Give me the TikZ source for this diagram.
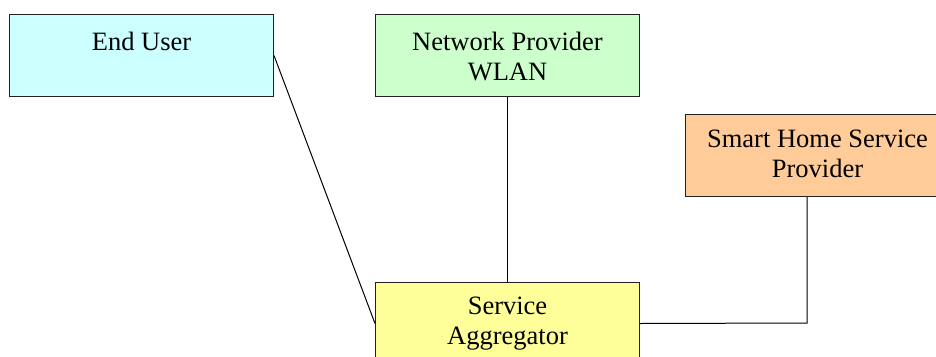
\documentclass[tikz,border=0pt]{standalone}
\usepackage{fontspec}
\setmainfont{Liberation Serif}
\definecolor{userfill}{HTML}{CCFFFF}
\definecolor{netfill}{HTML}{CCFFCC}
\definecolor{homefill}{HTML}{FFCC99}
\definecolor{aggfill}{HTML}{FFFF99}
\definecolor{edge}{HTML}{222222}
\begin{document}
\begin{tikzpicture}[x=1pt, y=-1pt,
  rolebox/.style={draw=edge, line width=1pt, rectangle, inner sep=0pt,
    minimum width=264pt, minimum height=82pt, anchor=north west},
  roletext/.style={anchor=north, inner sep=0pt, align=center,
    font=\fontsize{26.5}{30}\selectfont},
  link/.style={draw=black, line width=1pt}]
  \useasboundingbox (0,0) rectangle (936,356);

  % role boxes
  \node[rolebox, fill=userfill] (user) at (9,14) {};
  \node[rolebox, fill=netfill]  (net)  at (375,14) {};
  \node[rolebox, fill=homefill] (home) at (685,114) {};
  \node[rolebox, fill=aggfill]  (agg)  at (375,282) {};

  % labels, set from the top of each box
  \node[roletext] (userlbl) at ([yshift=-18pt]user.north) {End User};
  \node[roletext] (netlbl)  at ([yshift=-18pt]net.north)  {Network Provider\\WLAN};
  \node[roletext] (homelbl) at ([yshift=-16pt]home.north) {Smart Home Service\\Provider};
  \node[roletext] (agglbl)  at ([yshift=-15pt]agg.north)  {Service\\Aggregator};

  % connectors
  \coordinate (bend) at (807,323);
  \draw[link] (user.east) -- (agg.west);
  \draw[link] (net.south) -- (agg.north);
  \draw[link] (home.south -| bend) -- (bend) -- (agg.east);
\end{tikzpicture}
\end{document}
